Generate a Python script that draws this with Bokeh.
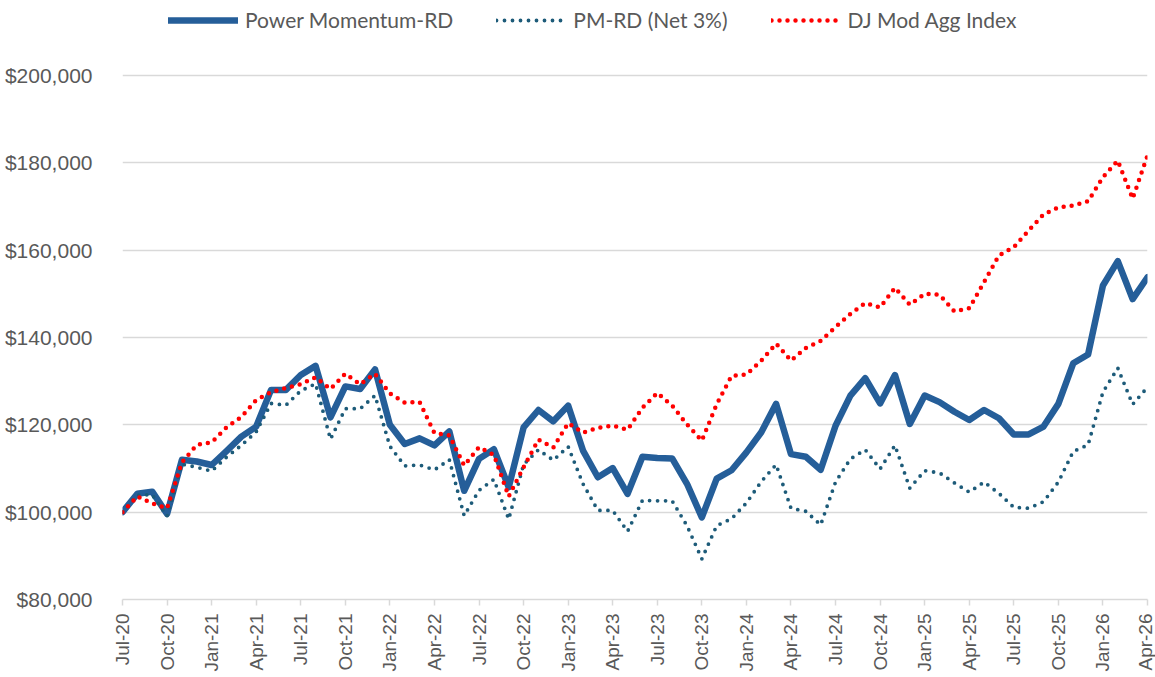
from bokeh.plotting import figure
from bokeh.models import Range1d, FixedTicker, Legend, LegendItem
from bokeh.embed import file_html
from bokeh.resources import INLINE
from math import pi

# ---- data (monthly, Jul-20 .. Apr-26) ----
tick_labels = ["Jul-20", "Oct-20", "Jan-21", "Apr-21", "Jul-21", "Oct-21", "Jan-22", "Apr-22",
               "Jul-22", "Oct-22", "Jan-23", "Apr-23", "Jul-23", "Oct-23", "Jan-24", "Apr-24",
               "Jul-24", "Oct-24", "Jan-25", "Apr-25", "Jul-25", "Oct-25", "Jan-26", "Apr-26"]

power_momentum = [100000, 104200, 104700, 99600, 112000, 111600, 110800, 114000, 117300, 119600,
                  128000, 128000, 131400, 133500, 121700, 128800, 128200, 132700, 120000, 115600,
                  116900, 115300, 118500, 104900, 112200, 114400, 105700, 119400, 123400, 120800,
                  124400, 114100, 108000, 110100, 104200, 112700, 112400, 112300, 106500, 98800,
                  107700, 109600, 113700, 118300, 124800, 113300, 112700, 109700, 119800, 126700,
                  130700, 124900, 131400, 120200, 126700, 125200, 123000, 121100, 123400, 121500,
                  117800, 117800, 119600, 124800, 134100, 136100, 151900, 157500, 148800, 153800]

pm_net3 = [100000, 103900, 104000, 99100, 111000, 110300, 109400, 112600, 115300, 118400,
           124900, 124500, 127800, 129400, 116700, 123700, 123700, 126700, 115100, 110600,
           110800, 109700, 112000, 99200, 105000, 107500, 98400, 110900, 114300, 111900,
           115000, 106500, 100400, 100400, 95600, 102700, 102600, 102600, 96900, 89300,
           96900, 98500, 102100, 107000, 110900, 100900, 100200, 97100, 106900, 112200,
           114300, 109900, 115300, 105500, 109500, 109000, 106700, 104600, 106900, 104300,
           101100, 100900, 102400, 106900, 113900, 115400, 127500, 133000, 124700, 128600]

dj_mod_agg = [100000, 103600, 102000, 100900, 111400, 115400, 116000, 119400, 121800, 125700,
              127500, 128400, 129300, 130900, 128200, 131700, 129300, 131700, 127200, 125100,
              125200, 118100, 117600, 110700, 114900, 113100, 103600, 110300, 116600, 114800,
              120400, 118200, 119300, 119800, 118900, 123900, 127300, 124400, 120100, 116400,
              124700, 131200, 131500, 134700, 138600, 134700, 137600, 139200, 142400, 145400,
              147900, 146900, 151400, 147500, 150000, 149800, 146000, 146700, 152700, 158800,
              160700, 164500, 168200, 169800, 170200, 171200, 176700, 180500, 171800, 181700]

y_ticks = [80000, 100000, 120000, 140000, 160000, 180000, 200000]
y_tick_labels = ["$80,000", "$100,000", "$120,000", "$140,000", "$160,000", "$180,000", "$200,000"]

x = list(range(len(power_momentum)))
tick_step = 3
x_ticks = [i * tick_step for i in range(len(tick_labels))]

# ---- layout: frame spans the whole top so the legend sits inside it ----
W, H = 1155, 676
LEFT, RIGHT, BOTTOM = 122, 8, 77
frame_h = H - BOTTOM
grid_top_px = 75          # pixel row of the top gridline
y_span = y_ticks[-1] - y_ticks[0]
y_end = y_ticks[0] + frame_h * y_span / (frame_h - grid_top_px)

p = figure(width=W, height=H, output_backend="svg", toolbar_location=None,
           x_range=Range1d(0, len(x) - 1), y_range=Range1d(y_ticks[0], y_end),
           min_border_left=LEFT, min_border_right=RIGHT, min_border_top=0,
           min_border_bottom=BOTTOM)
p.outline_line_color = None
p.background_fill_color = "white"

label_font = "Liberation Sans"
grey = "#595959"

# y axis
p.yaxis.ticker = FixedTicker(ticks=y_ticks)
p.yaxis.major_label_overrides = {t: l for t, l in zip(y_ticks, y_tick_labels)}
p.yaxis.axis_line_color = None
p.yaxis.major_tick_line_color = None
p.yaxis.minor_tick_line_color = None
p.yaxis.major_label_text_font = label_font
p.yaxis.major_label_text_font_size = "21px"
p.yaxis.major_label_text_color = grey
p.yaxis.major_label_standoff = 24

# x axis
p.xaxis.ticker = FixedTicker(ticks=x_ticks)
p.xaxis.major_label_overrides = {t: l for t, l in zip(x_ticks, tick_labels)}
p.xaxis.major_label_orientation = pi / 2
p.xaxis.axis_line_color = "#d9d9d9"
p.xaxis.axis_line_width = 1.5
p.xaxis.major_tick_line_color = "#d9d9d9"
p.xaxis.major_tick_line_width = 1.5
p.xaxis.major_tick_in = 0
p.xaxis.major_tick_out = 6
p.xaxis.minor_tick_line_color = None
p.xaxis.major_label_text_font = label_font
p.xaxis.major_label_text_font_size = "19px"
p.xaxis.major_label_text_color = grey
p.xaxis.major_label_standoff = 8

# grid
p.xgrid.grid_line_color = None
p.ygrid.ticker = FixedTicker(ticks=y_ticks)
p.ygrid.grid_line_color = "#d9d9d9"
p.ygrid.grid_line_width = 1.5

# ---- series ----
r_pm = p.line(x, power_momentum, line_color="#255E99", line_width=6.5,
              line_join="round", line_cap="round")
r_net = p.line(x, pm_net3, line_color="#1D5B79", line_width=3.8,
               line_dash="0 8", line_cap="round", line_join="round")
r_dj = p.line(x, dj_mod_agg, line_color="#FF0000", line_width=4.5,
              line_dash="0 8", line_cap="round", line_join="round")

legend = Legend(items=[LegendItem(label="Power Momentum-RD", renderers=[r_pm]),
                       LegendItem(label="PM-RD (Net 3%)", renderers=[r_net]),
                       LegendItem(label="DJ Mod Agg Index", renderers=[r_dj])],
                orientation="horizontal", location=(46, frame_h - 32))
legend.background_fill_alpha = 0
legend.border_line_alpha = 0
legend.padding = 0
legend.margin = 0
legend.glyph_width = 70
legend.glyph_height = 22
legend.label_height = 22
legend.label_standoff = 7
legend.spacing = 43
legend.label_text_font = "Lato"
legend.label_text_font_size = "21px"
legend.label_text_color = grey
p.add_layout(legend, "center")

open("out.html", "w").write(file_html(p, INLINE))
